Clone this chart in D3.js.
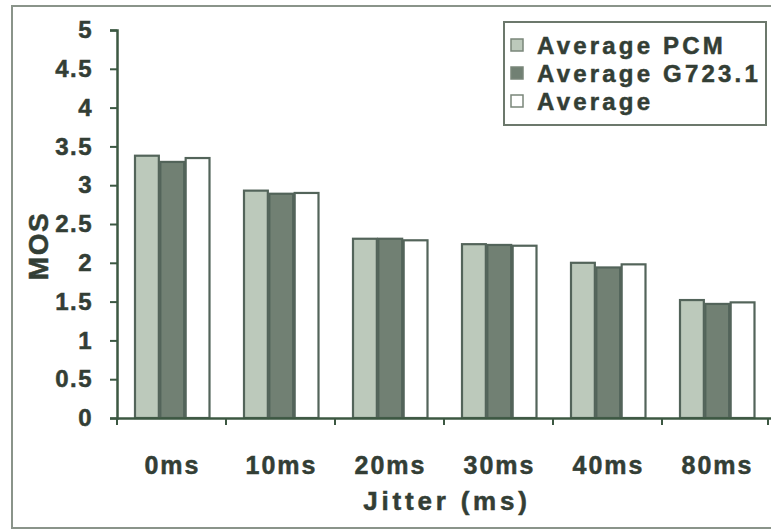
<!DOCTYPE html>
<html>
<head>
<meta charset="utf-8">
<script src="https://cdn.jsdelivr.net/npm/d3@7"></script>
<style>
  html, body { margin: 0; padding: 0; background: #fff; }
  svg { display: block; }
  text { font-family: "Liberation Sans", Arial, sans-serif; font-weight: bold; fill: #333e35; stroke: #333e35; stroke-width: 0.5px; }
</style>
</head>
<body>
<svg id="chart" width="771" height="532"></svg>
<script>
// Jitter categories and MOS averages per codec
const categories = ["0ms", "10ms", "20ms", "30ms", "40ms", "80ms"];
const seriesNames = ["Average PCM", "Average G723.1", "Average"];
const avgPCM   = [3.38, 2.93, 2.31, 2.24, 2.00, 1.52];
const avgG7231 = [3.30, 2.89, 2.31, 2.23, 1.94, 1.47];
const avgAll   = [3.35, 2.90, 2.29, 2.22, 1.98, 1.49];
const yTicks = [0, 0.5, 1, 1.5, 2, 2.5, 3, 3.5, 4, 4.5, 5];

const seriesValues = [avgPCM, avgG7231, avgAll];
const fills = ["#bcc9bb", "#718073", "#ffffff"];
const strokeCol = "#53645a";
const axisCol = "#3c5842";

const svg = d3.select("#chart");

// outer frame
svg.append("rect")
  .attr("x", 12).attr("y", 6).attr("width", 790).attr("height", 522)
  .attr("fill", "none").attr("stroke", "#8a948a").attr("stroke-width", 2);

const plotLeft = 117, plotRight = 771, plotTop = 30, plotBottom = 418;

const x = d3.scaleBand().domain(categories).range([plotLeft, plotRight]).paddingInner(0).paddingOuter(0);
const x1 = d3.scaleBand().domain(seriesNames).range([17, 17 + 76]).padding(0);
const y = d3.scaleLinear().domain([0, 5]).range([plotBottom, plotTop]);

// bars
const groups = svg.append("g").selectAll("g")
  .data(categories)
  .join("g")
  .attr("transform", d => `translate(${x(d)},0)`);

groups.selectAll("rect")
  .data((d, i) => seriesNames.map((s, k) => ({ s, v: seriesValues[k][i], k })))
  .join("rect")
  .attr("x", d => x1(d.s) + 1)
  .attr("y", d => y(d.v))
  .attr("width", x1.bandwidth() - 1.5)
  .attr("height", d => y(0) - y(d.v))
  .attr("fill", d => fills[d.k])
  .attr("stroke", strokeCol)
  .attr("stroke-width", 2.2);

// y axis
const yAxis = d3.axisLeft(y).tickValues(yTicks).tickSize(7).tickPadding(17)
  .tickFormat(d => String(d));
const gy = svg.append("g").attr("transform", `translate(${plotLeft},0)`).call(yAxis);
gy.select(".domain").attr("stroke", axisCol).attr("stroke-width", 2.5);
gy.selectAll(".tick line").attr("stroke", axisCol).attr("stroke-width", 2);
gy.selectAll(".tick text")
  .attr("font-size", 24).attr("letter-spacing", 1.5).attr("fill", "#333e35")
  .style("font-family", "'Liberation Sans', Arial, sans-serif").style("font-weight", "bold");

// x axis
const xAxis = d3.axisBottom(x).tickSize(0).tickFormat("");
const gx = svg.append("g").attr("transform", `translate(0,${plotBottom})`).call(xAxis);
gx.select(".domain").attr("stroke", axisCol).attr("stroke-width", 2.5);
gx.selectAll(".tick").remove();
// category boundary ticks
gx.selectAll("line.sep")
  .data(categories.concat(["end"]))
  .join("line")
  .attr("class", "sep")
  .attr("x1", (d, i) => i < categories.length ? x(d) : plotRight - 3)
  .attr("x2", (d, i) => i < categories.length ? x(d) : plotRight - 3)
  .attr("y1", 0).attr("y2", 7)
  .attr("stroke", axisCol).attr("stroke-width", 2);

// category labels
svg.append("g").selectAll("text")
  .data(categories)
  .join("text")
  .attr("x", d => x(d) + x.bandwidth() / 2 + 1)
  .attr("y", 474)
  .attr("text-anchor", "middle")
  .attr("font-size", 25)
  .attr("letter-spacing", 2)
  .text(d => d);

// axis titles
svg.append("text")
  .attr("x", 447).attr("y", 510)
  .attr("text-anchor", "middle")
  .attr("font-size", 26).attr("letter-spacing", 3.8)
  .text("Jitter (ms)");

svg.append("text")
  .attr("transform", "translate(48,246) rotate(-90)")
  .attr("text-anchor", "middle")
  .attr("font-size", 28).attr("letter-spacing", 1.5)
  .text("MOS");

// legend
const lg = svg.append("g");
lg.append("rect")
  .attr("x", 504).attr("y", 22).attr("width", 262).attr("height", 103)
  .attr("fill", "#fff").attr("stroke", "#6c786c").attr("stroke-width", 2);
const item = lg.selectAll("g.item")
  .data(seriesNames)
  .join("g")
  .attr("class", "item")
  .attr("transform", (d, i) => `translate(511,${45 + i * 28})`);
item.append("rect")
  .attr("x", 0).attr("y", -6).attr("width", 12).attr("height", 12)
  .attr("fill", (d, i) => fills[i]).attr("stroke", "#7a867a").attr("stroke-width", 1.5);
item.append("text")
  .attr("x", 26).attr("y", 9)
  .attr("font-size", 24).attr("letter-spacing", 3.2)
  .text(d => d);
</script>
</body>
</html>
